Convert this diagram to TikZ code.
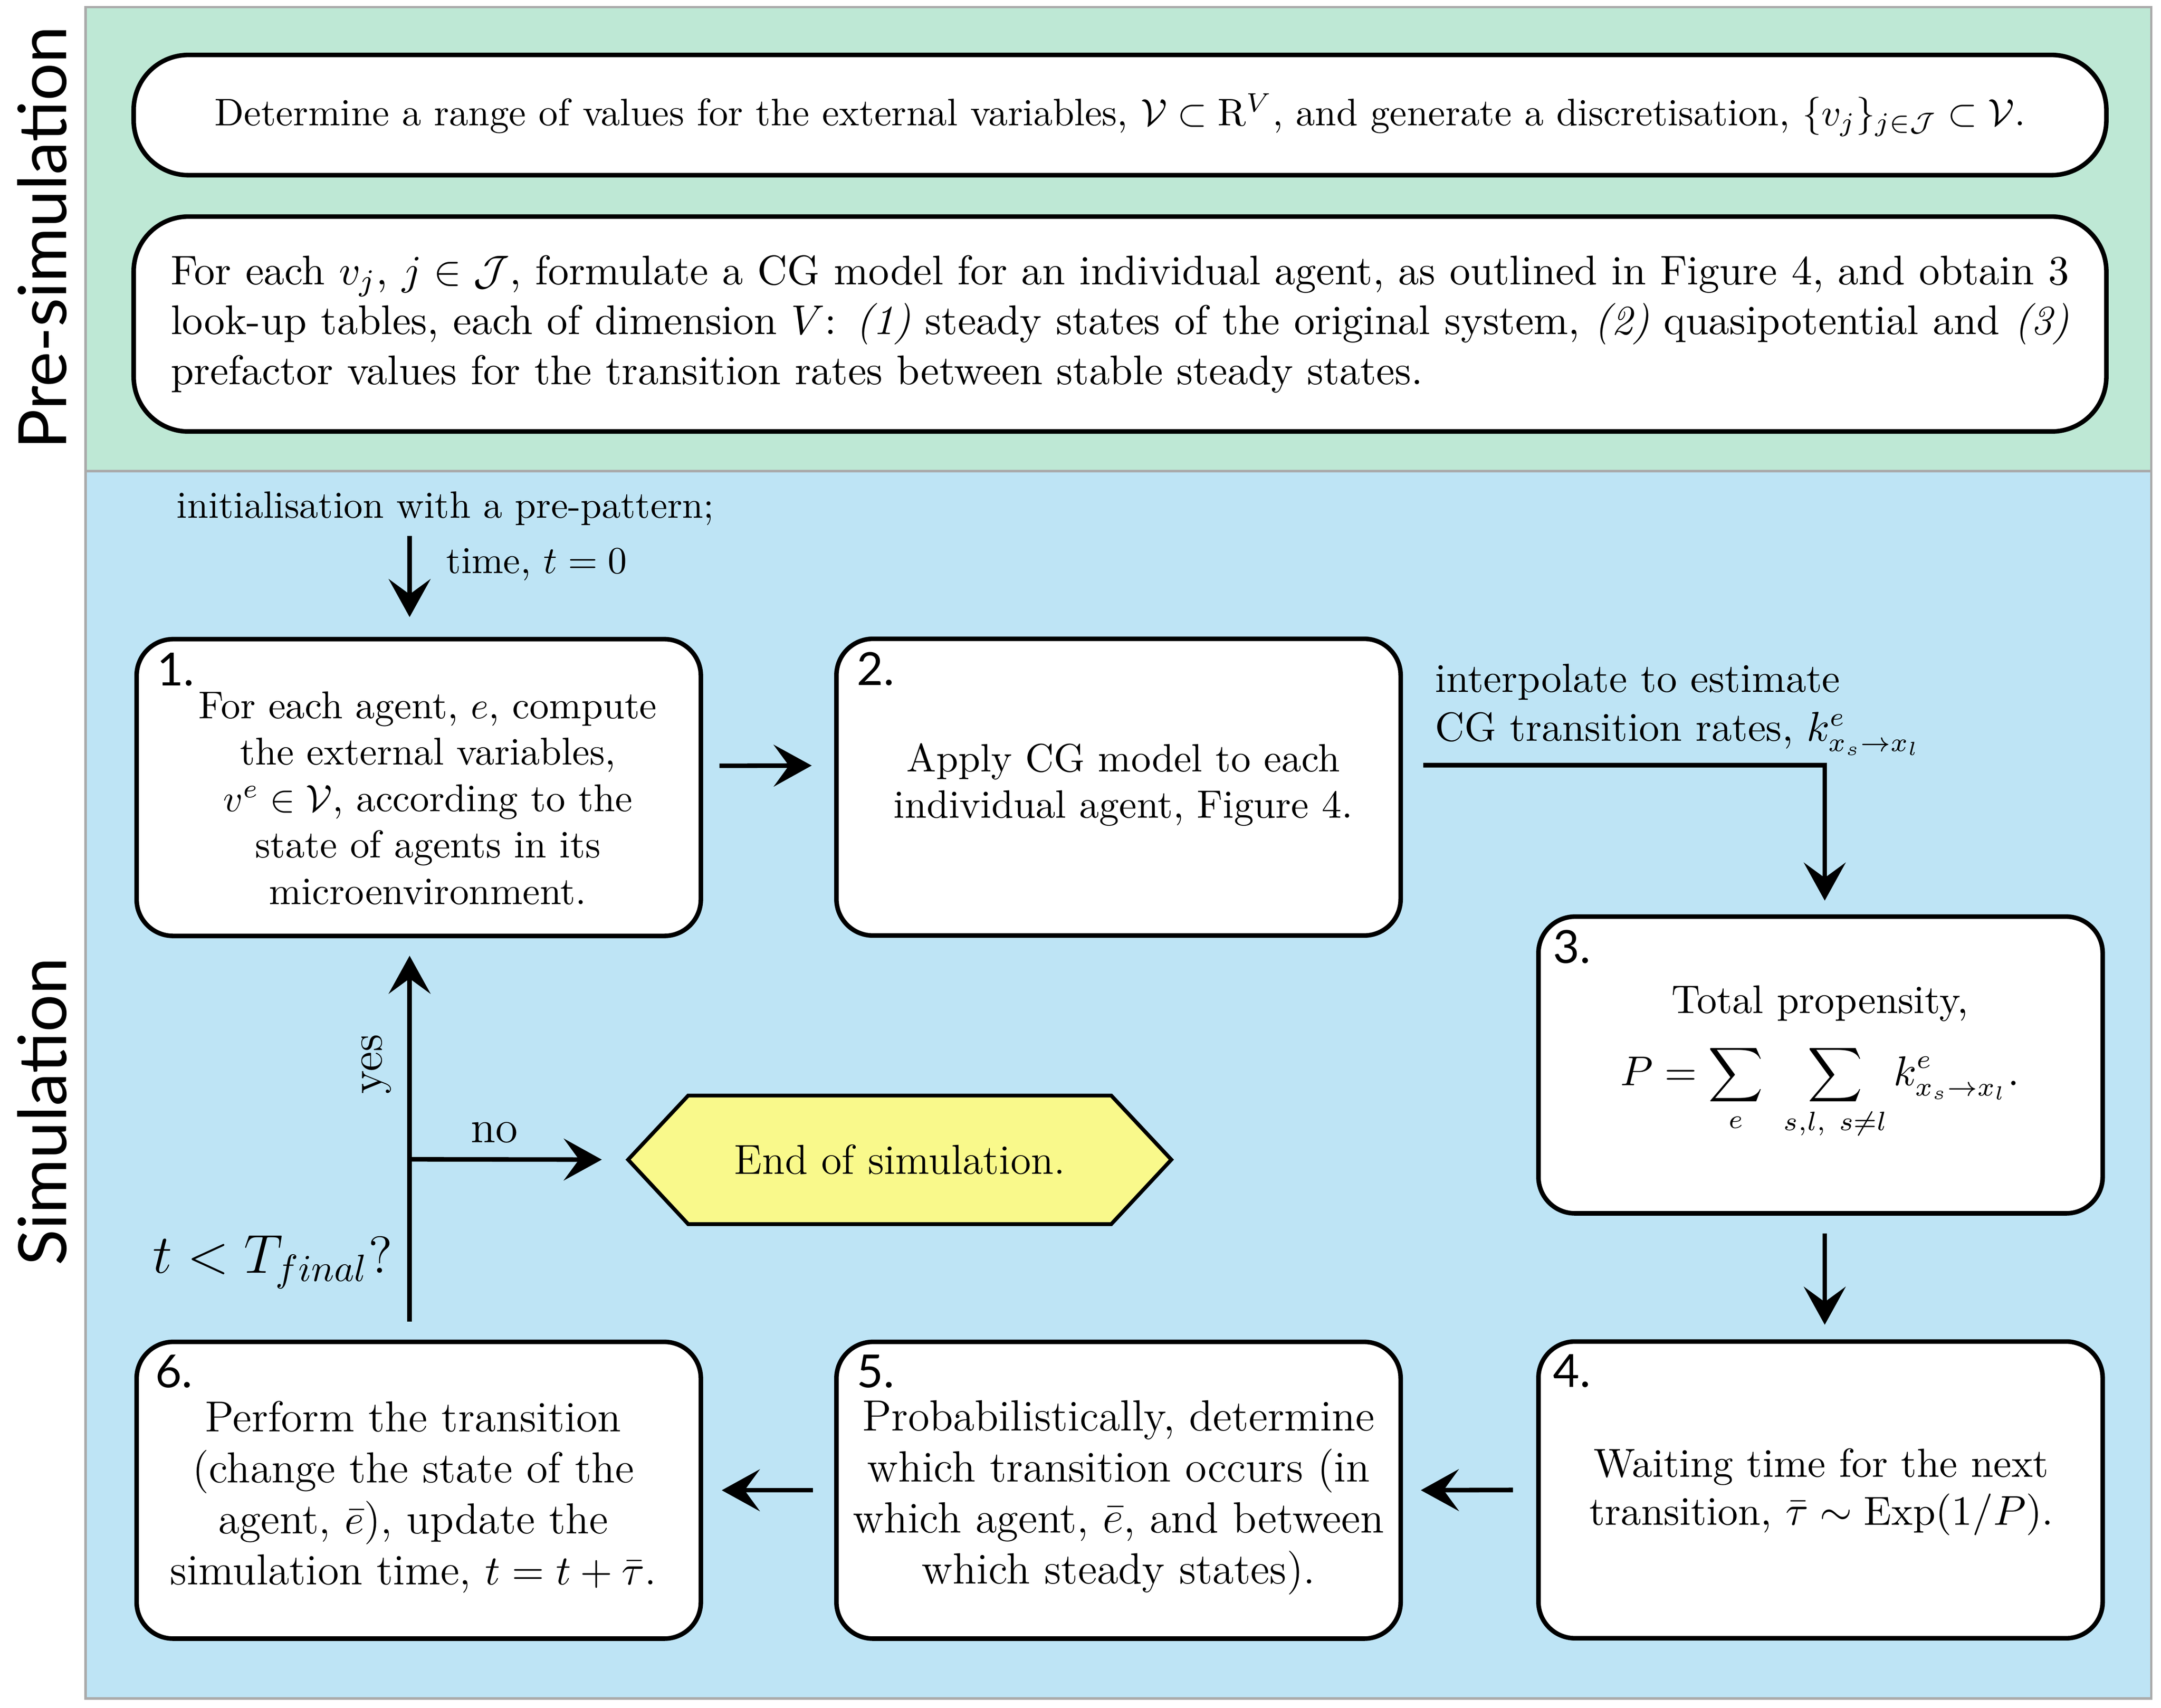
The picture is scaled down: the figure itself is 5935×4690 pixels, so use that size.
\documentclass[tikz,border=0pt]{standalone}
\usepackage{fontspec}
\newfontfamily\lblfont{Lato}
\usetikzlibrary{arrows.meta}
\definecolor{presimbg}{HTML}{BEE8D5}
\definecolor{simbg}{HTML}{BEE4F5}
\definecolor{endfill}{HTML}{F9F98B}
\definecolor{panelline}{HTML}{AAAAAA}
\begin{document}
\begin{tikzpicture}[x=0.0957pt,y=-0.0957pt,
  panel/.style={draw=panelline,line width=0.6pt},
  presimbox/.style={draw,line width=1.2pt,fill=white,rounded corners=14.4pt,minimum width=518.5pt,inner sep=0pt},
  simbox/.style={draw,line width=1.2pt,fill=white,rounded corners=9.6pt,minimum width=148.3pt,minimum height=78pt,inner sep=0pt},
  num/.style={font=\lblfont\fontsize{12}{13}\selectfont,anchor=base west,inner sep=0pt},
  body/.style={align=center,inner sep=0pt},
  plain/.style={inner sep=0pt},
  arr/.style={line width=1.2pt,-{Stealth[length=10pt,width=11pt,inset=4pt]}},
  side/.style={font=\lblfont\fontsize{17.5}{20}\selectfont,rotate=90,inner sep=0pt},
  hexpath/.style={draw,line width=1pt,fill=endfill,line join=miter}
]
\useasboundingbox (0,0) rectangle (5935,4690);

% panels
\fill[presimbg] (235,20) rectangle (5908,1294);
\fill[simbg] (235,1294) rectangle (5908,4665);
\draw[panel] (235,20) rectangle (5908,1294);
\draw[panel] (235,1294) rectangle (5908,4665);

% side labels
\node[side] (lpre) at (115,653) {Pre-simulation};
\node[side] (lsim) at (115,3053) {Simulation};

% pre-simulation boxes
\node[presimbox,minimum height=31.6pt,font=\fontsize{10.1}{12}\selectfont] (pA) at (3076,316)
  {Determine a range of values for the external variables, $\mathcal{V}\subset\mathrm{R}^{V}$, and generate a discretisation, $\{v_j\}_{j\in\mathcal{J}}\subset\mathcal{V}$.};
\node[presimbox,minimum height=56.5pt,text width=499pt,align=justify,font=\fontsize{10.9}{13.1}\selectfont] (pB) at (3076,890)
  {For each $v_j$, $j\in\mathcal{J}$, formulate a CG model for an individual agent, as outlined in Figure 4, and obtain 3\linebreak
   look-up tables, each of dimension $V$: \textit{(1)} steady states of the original system, \textit{(2)} quasipotential and \textit{(3)}\linebreak
   prefactor values for the transition rates between stable steady states.};

% simulation boxes
\node[simbox] (b1) at (1150,2163) {};
\node[simbox] (b2) at (3072,2162) {};
\node[simbox] (b3) at (5000,2925) {};
\node[simbox] (b4) at (5000,4092) {};
\node[simbox] (b5) at (3072,4093) {};
\node[simbox] (b6) at (1150,4093) {};

\node[num] (n1) at ([xshift=5.8pt,yshift=-12.8pt]b1.north west) {1.};
\node[num] (n2) at ([xshift=5.8pt,yshift=-12.8pt]b2.north west) {2.};
\node[num] (n3) at ([xshift=4.3pt,yshift=-12.8pt]b3.north west) {3.};
\node[num] (n4) at ([xshift=4.3pt,yshift=-12.6pt]b4.north west) {4.};
\node[num] (n5) at ([xshift=5.8pt,yshift=-12.6pt]b5.north west) {5.};
\node[num] (n6) at ([xshift=5.3pt,yshift=-12.6pt]b6.north west) {6.};

\node[body,font=\fontsize{10.2}{12.2}\selectfont] (t1) at (1175,2192)
  {For each agent, $e$, compute\\ the external variables,\\ $v^{e}\in\mathcal{V}$, according to the\\ state of agents in its\\ microenvironment.};
\node[body,font=\fontsize{10.4}{12.2}\selectfont] (t2) at (3085,2155)
  {Apply CG model to each\\ individual agent, Figure 4.};
\node[body,font=\fontsize{10.5}{12.3}\selectfont] (t3) at (4998,2918)
  {Total propensity,\\[5pt] $\displaystyle P=\sum_{e}\ \sum_{s,l,\ s\neq l} k^{e}_{x_s\rightarrow x_l}.$};
\node[body,font=\fontsize{10.65}{12.6}\selectfont] (t4) at (5002,4097)
  {Waiting time for the next\\ transition, $\bar{\tau}\sim\mathrm{Exp}(1/P)$.};
\node[body,font=\fontsize{11.5}{13.4}\selectfont] (t5) at (3072,4113)
  {Probabilistically, determine\\ which transition occurs (in\\ which agent, $\bar{e}$, and between\\ which steady states).};
\node[body,font=\fontsize{11.4}{13.4}\selectfont] (t6) at (1135,4112)
  {Perform the transition\\ (change the state of the\\ agent, $\bar{e}$), update the\\ simulation time, $t=t+\bar{\tau}$.};

% end of simulation hexagon
\draw[hexpath] (1725,3185) -- (1890,3009) -- (3052,3009) -- (3217,3185) -- (3052,3362) -- (1890,3362) -- cycle;
\node[plain,minimum width=142.8pt,minimum height=33.8pt,font=\fontsize{11}{13}\selectfont] (end) at (2471,3185) {End of simulation.};

% labels
\node[plain,anchor=base,font=\fontsize{10}{12}\selectfont] (init) at (1223,1423) {initialisation with a pre-pattern;};
\node[plain,anchor=base west,font=\fontsize{10}{12}\selectfont] (time) at (1224,1575) {time, $t=0$};
\node[plain,anchor=west,align=left,font=\fontsize{10.7}{12.8}\selectfont] (interp) at (3939,1949)
  {interpolate to estimate\\ CG transition rates, $k^{e}_{x_s\rightarrow x_l}$};
\node[plain,rotate=90,font=\fontsize{12}{14}\selectfont] (yes) at (1033,2923) {yes};
\node[plain,font=\fontsize{12}{14}\selectfont] (no) at (1358,3110) {no};
\node[plain,anchor=base east,font=\fontsize{13.7}{16}\selectfont] (cond) at (1080,3496) {$t<T_{final}$?};

% connectors
\coordinate (start) at (1125,1472);
\coordinate (split) at (1125,3184);
\draw[arr,shorten >=5.2pt] (start) -- ([xshift=-2.4pt]b1.north);
\draw[arr,shorten <=4.3pt,shorten >=5.9pt] ([yshift=5.7pt]b1.east) -- ([yshift=5.7pt]b2.west);
\draw[arr,shorten <=5.3pt,shorten >=3.6pt] ([yshift=5.8pt]b2.east) -| ([xshift=1.1pt]b3.north);
\draw[arr,shorten <=4.7pt,shorten >=3.8pt] ([xshift=1.1pt]b3.south) -- ([xshift=1.1pt]b4.north);
\draw[arr,shorten <=6.1pt,shorten >=4.7pt] (b4.west) -- (b5.east);
\draw[arr,shorten <=5.6pt,shorten >=4.9pt] (b5.west) -- (b6.east);
\draw[arr,shorten <=4.7pt,shorten >=4.6pt] ([xshift=-2.4pt]b6.north) -- ([xshift=-2.4pt]b1.south);
\draw[arr,shorten >=6.7pt] (split) -- (end.west);
\end{tikzpicture}
\end{document}
